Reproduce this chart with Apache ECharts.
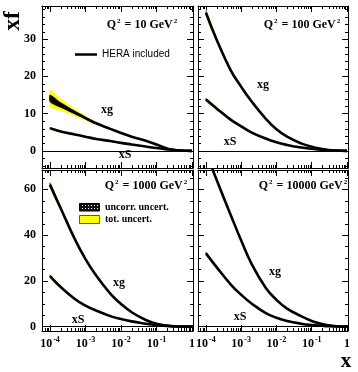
<!DOCTYPE html>
<html><head><meta charset="utf-8">
<script src="https://cdn.jsdelivr.net/npm/echarts@6/dist/echarts.min.js"></script>
<style>html,body{margin:0;padding:0;background:#fff}#c{width:358px;height:372px}</style>
</head><body><div id="c"></div>
<script>
// ---- data ----
const xPoints = [1e-4, 2e-4, 5e-4, 1e-3, 2e-3, 5e-3, 1e-2, 2e-2, 5e-2, 0.1, 0.2, 0.3, 0.5, 0.7, 1];

// Q2 = 10 GeV2
const xg10     = [14.1, 12.3, 10.3, 8.8, 7.4, 5.9, 4.8, 3.8, 2.7, 1.7, 0.65, 0.3, 0.08, 0.02, 0];
const xg10Tot  = [2.2, 1.6, 1.0, 0.65, 0.4, 0.25, 0.2, 0.15, 0.12, 0.1, 0.06, 0.04, 0.02, 0.01, 0];
const xg10Unc  = [1.0, 0.75, 0.5, 0.35, 0.25, 0.18, 0.14, 0.1, 0.08, 0.06, 0.04, 0.03, 0.01, 0.01, 0];
const xS10     = [6.1, 5.2, 4.4, 3.8, 3.2, 2.65, 2.15, 1.72, 1.15, 0.75, 0.4, 0.22, 0.08, 0.02, 0];
const xS10Tot  = [0.3, 0.25, 0.2, 0.15, 0.12, 0.1, 0.08, 0.07, 0.05, 0.04, 0.03, 0.02, 0.01, 0, 0];
const xS10Unc  = [0.2, 0.15, 0.12, 0.1, 0.08, 0.07, 0.06, 0.05, 0.04, 0.03, 0.02, 0.01, 0.01, 0, 0];

// Q2 = 100 GeV2
const xg100    = [37.1, 29.9, 21.7, 17.2, 13.2, 8.6, 5.8, 3.8, 2.0, 1.1, 0.5, 0.25, 0.08, 0.02, 0];
const xg100Tot = [0.9, 0.7, 0.5, 0.4, 0.3, 0.25, 0.2, 0.15, 0.1, 0.08, 0.05, 0.03, 0.02, 0.01, 0];
const xg100Unc = [0.5, 0.4, 0.3, 0.25, 0.2, 0.15, 0.12, 0.1, 0.07, 0.05, 0.03, 0.02, 0.01, 0.01, 0];
const xS100    = [13.8, 11.4, 8.4, 6.6, 4.9, 3.3, 2.3, 1.6, 0.9, 0.55, 0.28, 0.16, 0.06, 0.02, 0];
const xS100Tot = [0.5, 0.4, 0.3, 0.25, 0.2, 0.15, 0.12, 0.1, 0.07, 0.05, 0.03, 0.02, 0.01, 0, 0];
const xS100Unc = [0.35, 0.3, 0.22, 0.18, 0.15, 0.1, 0.08, 0.07, 0.05, 0.03, 0.02, 0.01, 0.01, 0, 0];

// Q2 = 1000 GeV2
const xg1000    = [61.9, 51.7, 38.2, 29.5, 22.3, 14.4, 9.9, 6.3, 2.9, 1.25, 0.45, 0.2, 0.05, 0.01, 0];
const xg1000Tot = [1.5, 1.2, 0.9, 0.7, 0.55, 0.4, 0.3, 0.2, 0.12, 0.08, 0.04, 0.02, 0.01, 0, 0];
const xg1000Unc = [1.0, 0.8, 0.6, 0.5, 0.4, 0.3, 0.2, 0.15, 0.08, 0.05, 0.03, 0.01, 0.01, 0, 0];
const xS1000    = [22.1, 17.3, 12.1, 9.2, 7.0, 4.6, 3.3, 2.3, 1.3, 0.6, 0.28, 0.14, 0.05, 0.01, 0];
const xS1000Tot = [0.7, 0.55, 0.45, 0.35, 0.3, 0.2, 0.15, 0.12, 0.08, 0.05, 0.03, 0.02, 0.01, 0, 0];
const xS1000Unc = [0.5, 0.4, 0.32, 0.25, 0.2, 0.15, 0.1, 0.08, 0.05, 0.03, 0.02, 0.01, 0.01, 0, 0];

// Q2 = 10000 GeV2
const xg10000    = [76.0, 64.2, 48.9, 37.6, 27.2, 16.9, 11.7, 7.9, 4.6, 2.5, 1.2, 0.65, 0.2, 0.05, 0];
const xg10000Tot = [1.6, 1.3, 1.0, 0.8, 0.6, 0.45, 0.35, 0.25, 0.15, 0.1, 0.05, 0.03, 0.01, 0, 0];
const xg10000Unc = [1.1, 0.9, 0.7, 0.55, 0.45, 0.3, 0.25, 0.18, 0.1, 0.06, 0.03, 0.02, 0.01, 0, 0];
const xS10000    = [32.0, 26.0, 18.5, 13.9, 10.0, 5.9, 3.9, 2.5, 1.3, 0.72, 0.38, 0.21, 0.08, 0.02, 0];
const xS10000Tot = [0.8, 0.65, 0.5, 0.4, 0.32, 0.22, 0.17, 0.13, 0.09, 0.06, 0.03, 0.02, 0.01, 0, 0];
const xS10000Unc = [0.55, 0.45, 0.35, 0.28, 0.22, 0.16, 0.12, 0.09, 0.06, 0.04, 0.02, 0.01, 0.01, 0, 0];

const q2Labels = ['10', '100', '1000', '10000'];
const xMajorTicks = [1e-4, 1e-3, 1e-2, 1e-1, 1];
const xMinorTicks = [7e-5, 8e-5, 9e-5,
  2e-4, 3e-4, 4e-4, 5e-4, 6e-4, 7e-4, 8e-4, 9e-4,
  2e-3, 3e-3, 4e-3, 5e-3, 6e-3, 7e-3, 8e-3, 9e-3,
  2e-2, 3e-2, 4e-2, 5e-2, 6e-2, 7e-2, 8e-2, 9e-2,
  0.2, 0.3, 0.4, 0.5, 0.6, 0.7, 0.8, 0.9];
const yMajorTop = [0, 10, 20, 30];
const yMinorTop = [-4, -2, 2, 4, 6, 8, 12, 14, 16, 18, 22, 24, 26, 28, 32, 34, 36, 38];
const yMajorBottom = [0, 20, 40, 60];
const yMinorBottom = [5, 10, 15, 25, 30, 35, 45, 50, 55, 65];

// ---- layout ----
const serif = '"Liberation Serif", "DejaVu Serif", serif';
const sans = '"Liberation Sans", Arial, sans-serif';
const grids = [
  {left: 42, top: 6, width: 151, height: 162},
  {left: 198, top: 6, width: 150, height: 162},
  {left: 42, top: 170, width: 151, height: 161},
  {left: 198, top: 170, width: 150, height: 161}
];
const yRangeTop = [-4.6, 38.9];
const yRangeBottom = [-1.9, 68.4];
const xRange = [5.95e-5, 1.07];
const SMOOTH = 0.45;

const panels = [
  {xg: xg10, xgT: xg10Tot, xgU: xg10Unc, xS: xS10, xST: xS10Tot, xSU: xS10Unc},
  {xg: xg100, xgT: xg100Tot, xgU: xg100Unc, xS: xS100, xST: xS100Tot, xSU: xS100Unc},
  {xg: xg1000, xgT: xg1000Tot, xgU: xg1000Unc, xS: xS1000, xST: xS1000Tot, xSU: xS1000Unc},
  {xg: xg10000, xgT: xg10000Tot, xgU: xg10000Unc, xS: xS10000, xST: xS10000Tot, xSU: xS10000Unc}
];

const axisLineStyle = {color: '#000', width: 1};

function xLabelFmt(v) {
  const e = Math.log10(v);
  const r = Math.round(e);
  if (Math.abs(e - r) > 0.01) return '';
  if (!xMajorTicks.some(t => Math.abs(Math.log10(t) - r) < 1e-6)) return '';
  if (r === 0) return '{b|1}';
  return '{b|10}{s|' + r + '}';
}

const xAxes = [], yAxes = [];
grids.forEach((g, gi) => {
  const bottomRow = gi >= 2;
  const leftCol = gi % 2 === 0;
  const base = {
    type: 'log', logBase: 10, gridIndex: gi, min: xRange[0], max: xRange[1],
    axisLine: {show: true, onZero: false, lineStyle: axisLineStyle},
    axisTick: {show: true, inside: true, length: 6, lineStyle: axisLineStyle},
    minorTick: {show: false}, splitLine: {show: false}, minorSplitLine: {show: false}
  };
  xAxes.push(Object.assign({}, base, {
    position: 'bottom',
    axisLabel: {
      show: bottomRow, interval: 0, margin: 5, formatter: xLabelFmt,
      rich: {
        b: {fontFamily: serif, fontWeight: 'bold', fontSize: 12, color: '#000', lineHeight: 16},
        s: {fontFamily: serif, fontWeight: 'bold', fontSize: 8, color: '#000', verticalAlign: 'top', lineHeight: 9, padding: [0, 0, 0, 1]}
      }
    }
  }));
  xAxes.push(Object.assign({}, base, {position: 'top', axisLabel: {show: false}}));
  const yr = bottomRow ? yRangeBottom : yRangeTop;
  const majors = bottomRow ? yMajorBottom : yMajorTop;
  const ybase = {
    type: 'value', gridIndex: gi, min: yr[0], max: yr[1], splitNumber: 4,
    axisLine: {show: true, onZero: false, lineStyle: axisLineStyle},
    axisTick: {show: true, inside: true, length: 6, lineStyle: axisLineStyle},
    minorTick: {show: false}, splitLine: {show: false}
  };
  yAxes.push(Object.assign({}, ybase, {
    position: 'left',
    axisLabel: {
      show: leftCol, margin: 6, color: '#000', fontFamily: serif, fontWeight: 'bold', fontSize: 12,
      formatter: v => majors.some(m => Math.abs(m - v) < 1e-6) ? String(Math.round(v)) : ''
    }
  }));
  yAxes.push(Object.assign({}, ybase, {position: 'right', axisLabel: {show: false}}));
});

function pairs(vals) { return vals.map((v, i) => [xPoints[i], v]); }

const series = [];
function addBand(gi, center, half, color, z) {
  series.push({
    type: 'custom', xAxisIndex: 2 * gi, yAxisIndex: 2 * gi, silent: true, z: z, clip: true,
    data: [[1e-2, 10]],
    renderItem: (params, api) => {
      const up = center.map((v, i) => api.coord([xPoints[i], v + half[i]]));
      const lo = center.map((v, i) => api.coord([xPoints[i], v - half[i]])).reverse();
      return {type: 'polygon', shape: {points: up.concat(lo), smooth: 0.3},
        style: {fill: color, stroke: null}};
    }
  });
}
panels.forEach((p, gi) => {
  addBand(gi, p.xg, p.xgT, '#ffff00', 2);
  addBand(gi, p.xS, p.xST, '#ffff00', 2);
  addBand(gi, p.xg, p.xgU, '#111111', 3);
  addBand(gi, p.xS, p.xSU, '#111111', 3);
  series.push({type: 'line', xAxisIndex: 2 * gi, yAxisIndex: 2 * gi, data: pairs(p.xg), symbol: 'none',
    smooth: SMOOTH, silent: true, z: 4, lineStyle: {color: '#000', width: 2.6},
    markLine: {silent: true, symbol: 'none', label: {show: false}, animation: false,
      lineStyle: {color: '#000', width: 1, type: 'solid'}, data: [{yAxis: 0}]}});
  series.push({type: 'line', xAxisIndex: 2 * gi, yAxisIndex: 2 * gi, data: pairs(p.xS), symbol: 'none',
    smooth: SMOOTH, silent: true, z: 4, lineStyle: {color: '#000', width: 2.6}});
  // minor ticks on x (bottom & top edges)
  series.push({
    type: 'custom', xAxisIndex: 2 * gi, yAxisIndex: 2 * gi, silent: true, z: 10,
    data: xMinorTicks.map(v => [v, 10]),
    renderItem: (params, api) => {
      const pt = api.coord([api.value(0), api.value(1)]);
      const cs = params.coordSys;
      const x = Math.round(pt[0]) + 0.5;
      const b = cs.y + cs.height;
      return {type: 'group', children: [
        {type: 'line', shape: {x1: x, y1: b, x2: x, y2: b - 3}, style: {stroke: '#000', lineWidth: 1}},
        {type: 'line', shape: {x1: x, y1: cs.y, x2: x, y2: cs.y + 3}, style: {stroke: '#000', lineWidth: 1}}
      ]};
    }
  });
  // minor ticks on y (left & right edges)
  const ym = gi >= 2 ? yMinorBottom : yMinorTop;
  series.push({
    type: 'custom', xAxisIndex: 2 * gi, yAxisIndex: 2 * gi, silent: true, z: 10,
    data: ym.map(v => [1e-2, v]),
    renderItem: (params, api) => {
      const pt = api.coord([api.value(0), api.value(1)]);
      const cs = params.coordSys;
      const y = Math.round(pt[1]) + 0.5;
      const r = cs.x + cs.width;
      return {type: 'group', children: [
        {type: 'line', shape: {x1: cs.x, y1: y, x2: cs.x + 3, y2: y}, style: {stroke: '#000', lineWidth: 1}},
        {type: 'line', shape: {x1: r, y1: y, x2: r - 3, y2: y}, style: {stroke: '#000', lineWidth: 1}}
      ]};
    }
  });
});

// checker pattern for "uncorr. uncert." legend box
const pc = document.createElement('canvas');
pc.width = 3; pc.height = 3;
const pctx = pc.getContext('2d');
pctx.fillStyle = '#111'; pctx.fillRect(0, 0, 3, 3);
pctx.fillStyle = '#fff'; pctx.fillRect(1, 1, 1, 1);

function txt(x, y, text, font, align, extra) {
  const st = {text: text, font: font, fill: '#000', align: align || 'center', verticalAlign: 'middle',
    textAlign: align || 'center', textVerticalAlign: 'middle'};
  return Object.assign({type: 'text', x: x, y: y, silent: true, z: 100, style: st}, extra || {});
}
function q2Text(x, y, q) {
  const m = {fontFamily: serif, fontWeight: 'bold', fontSize: 12, fill: '#000', color: '#000', lineHeight: 14};
  const s = {fontFamily: serif, fontWeight: 'bold', fontSize: 7, fill: '#000', color: '#000', lineHeight: 8,
    verticalAlign: 'top', textVerticalAlign: 'top', padding: [0, 1, 0, 1]};
  return {type: 'text', x: x, y: y, silent: true, z: 100, style: {
    text: '{m|Q}{s|2}{m| = ' + q + ' GeV}{s|2}', rich: {m: m, s: s},
    align: 'center', verticalAlign: 'middle', textAlign: 'center', textVerticalAlign: 'middle'}};
}

const bold12 = 'bold 12px ' + serif;
const graphic = [
  txt(13, 21, 'xf', 'bold 23px ' + serif, 'center', {rotation: Math.PI / 2}),
  txt(346, 362, 'x', 'bold 21px ' + serif, 'center'),
  q2Text(142.5, 24.5, q2Labels[0]),
  q2Text(302.5, 24.5, q2Labels[1]),
  q2Text(146.5, 185.5, q2Labels[2]),
  q2Text(303.5, 185.5, q2Labels[3]),
  {type: 'line', silent: true, z: 100, shape: {x1: 75, y1: 54.5, x2: 97, y2: 54.5}, style: {stroke: '#000', lineWidth: 2.5}},
  txt(102, 54.5, 'HERA included', '10px ' + sans, 'left'),
  {type: 'rect', silent: true, z: 100, shape: {x: 79.5, y: 203.5, width: 20, height: 7.5},
    style: {fill: {image: pc, repeat: 'repeat'}, stroke: '#000', lineWidth: 1}},
  txt(105, 207.5, 'uncorr. uncert.', 'bold 10px ' + serif, 'left'),
  {type: 'rect', silent: true, z: 100, shape: {x: 79.5, y: 215.5, width: 20, height: 8},
    style: {fill: '#ffff00', stroke: '#555', lineWidth: 1}},
  txt(105, 219.5, 'tot. uncert.', 'bold 10px ' + serif, 'left'),
  txt(107, 110, 'xg', bold12), txt(125, 155, 'xS', bold12),
  txt(263, 85, 'xg', bold12), txt(230, 142, 'xS', bold12),
  txt(119, 283, 'xg', bold12), txt(78, 320, 'xS', bold12),
  txt(275, 272, 'xg', bold12), txt(240, 317, 'xS', bold12)
];

const chart = echarts.init(document.getElementById('c'), null, {renderer: 'canvas'});
chart.setOption({
  animation: false,
  backgroundColor: '#fff',
  grid: grids.map(g => Object.assign({containLabel: false, outerBoundsMode: 'none'}, g)),
  xAxis: xAxes,
  yAxis: yAxes,
  series: series,
  graphic: graphic
});
</script>
</body></html>
